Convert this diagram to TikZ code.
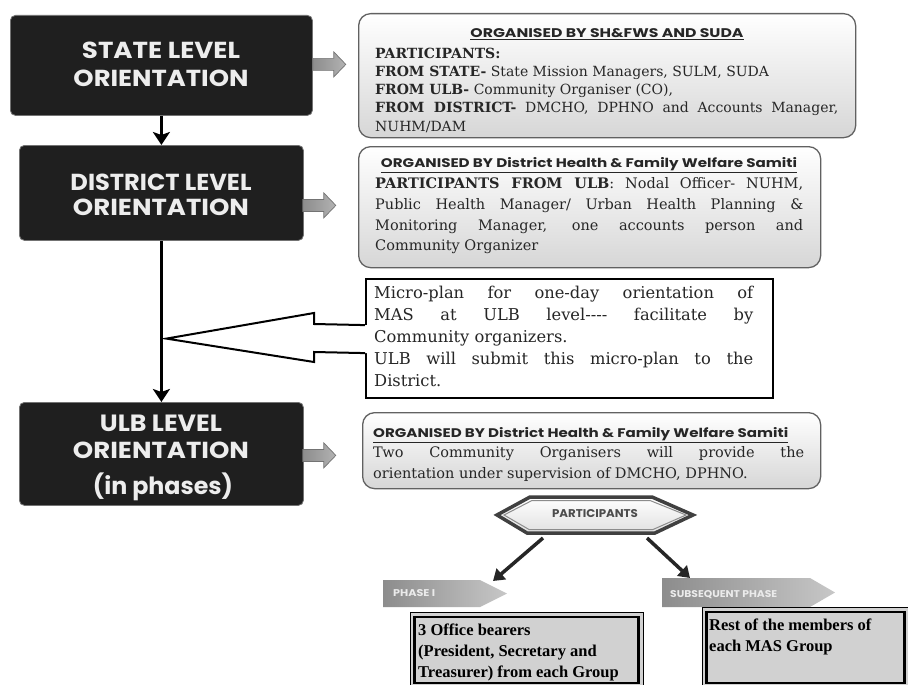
\documentclass[tikz,border=0pt]{standalone}
\usepackage{fontspec}
\setmainfont{DejaVu Serif}
\newfontfamily\popf{Poppins}
\newfontfamily\timesf{Liberation Serif}
\usetikzlibrary{arrows.meta,calc}
\tikzset{
  darkbox/.style={fill=black!88, draw=black!55, line width=0.8pt, rounded corners=5pt, inner sep=0pt, anchor=north west},
  litebox/.style={draw=black!62, line width=1.3pt, rounded corners=12pt, top color=white, bottom color=black!16, inner sep=0pt, anchor=north west},
  microbox/.style={draw=black, line width=2.2pt, fill=white, inner sep=0pt, anchor=north west},
  darktext/.style={text=white!93!black, inner sep=0pt, anchor=base},
  hdr/.style={inner sep=0pt, anchor=base, text=black!85},
  para/.style={inner sep=0pt, anchor=north west, align=left, text=black!85},
  flowarrow/.style={line width=3pt, -{Stealth[length=13pt,width=17pt,inset=3pt]}},
  grayarr/.style={draw=black!55, line width=0.7pt, left color=black!45, right color=black!30},
  callout/.style={draw=black, line width=2pt, line join=miter},
  phasearrow/.style={line width=3.5pt, black!85, -{Triangle[length=11pt,width=14pt]}},
  phasetag/.style={left color=black!45, right color=black!22, draw=none},
  phasebox/.style={draw=black, line width=0.8pt, fill=black!18},
  phaseinner/.style={draw=black, line width=2.6pt},
  hexout/.style={draw=black!75, line width=3.5pt, line join=miter, top color=white, bottom color=black!12},
  hexin/.style={draw=black!45, line width=1pt},
}
\newcommand{\grarrow}[1]{\draw[grayarr] #1 ++(0,-6) -- ++(21,0) -- ++(0,-6.5) -- ++(12,12.5) -- ++(-12,12.5) -- ++(0,-6.5) -- ++(-21,0) -- cycle;}
\begin{document}
\begin{tikzpicture}[x=1pt,y=-1pt]
\useasboundingbox (0,0) rectangle (908,685);
\clip (0,0) rectangle (908,685);
\fill[white] (0,0) rectangle (908,685);

% dark level boxes
\node[darkbox, minimum width=302pt, minimum height=100pt] (state) at (10,15) {};
\node[darkbox, minimum width=284pt, minimum height=95pt] (district) at (19,145) {};
\node[darkbox, minimum width=284pt, minimum height=103pt] (ulb) at (19,402) {};

% light boxes
\node[litebox, minimum width=497pt, minimum height=124pt] (box1) at (358,13) {};
\node[litebox, minimum width=462pt, minimum height=121pt] (box2) at (358,146) {};
\node[litebox, minimum width=458pt, minimum height=76pt] (box3) at (362,412) {};
\node[microbox, minimum width=407pt, minimum height=119pt] (micro) at (365,278) {};

% flow arrows
\draw[flowarrow] (state.south) -- (district.north);
\draw[flowarrow] (district.south) -- (ulb.north);

% gray arrows
\grarrow{($(state.east)+(0,-1)$)}
\grarrow{($(district.east)+(-1,12.5)$)}
\grarrow{($(ulb.east)+(-1,1.5)$)}

% callout arrow
\coordinate (ctip) at ($(district.south |- micro.west)+(5,0)$);
\coordinate (cA) at ($(micro.west)+(0,-13.5)$);
\coordinate (cB) at ($(micro.west)+(0,14.5)$);
\fill[white] ($(cA)+(2,0)$) -- (314,324) -- (314,313) -- (ctip) -- (314,362) -- (314,352) -- ($(cB)+(2,0)$) -- cycle;
\draw[callout] (cA) -- (314,324) -- (314,313) -- (ctip) -- (314,362) -- (314,352) -- (cB);

% dark box texts
\node[darktext] (stA) at (161,58.5) {\resizebox{158pt}{16.5pt}{\popf\bfseries STATE LEVEL}};
\node[darktext] (stB) at (161,86) {\resizebox{175pt}{16.5pt}{\popf\bfseries ORIENTATION}};
\node[darktext] (diA) at (161,190) {\resizebox{181pt}{16.5pt}{\popf\bfseries DISTRICT LEVEL}};
\node[darktext] (diB) at (161,215) {\resizebox{176pt}{16.5pt}{\popf\bfseries ORIENTATION}};
\node[darktext] (ulA) at (161,431) {\resizebox{122pt}{16.5pt}{\popf\bfseries ULB LEVEL}};
\node[darktext] (ulB) at (161,458) {\resizebox{176pt}{16.5pt}{\popf\bfseries ORIENTATION}};
\node[darktext] (ulC) at (163,494) {\resizebox{140pt}{!}{\popf\bfseries (in phases)}};

% box 1
\node[hdr] (b1h) at (607,37.5) {\resizebox{273pt}{9pt}{\popf\bfseries\underline{ORGANISED BY SH\&FWS AND SUDA}}};
\node[para, font=\fontsize{14}{18.25}\selectfont] (b1t) at (375,47.5) {\textbf{PARTICIPANTS:}\\
\textbf{FROM STATE-} State Mission Managers, SULM, SUDA\\
\textbf{FROM ULB-} Community Organiser (CO),\\
\makebox[463pt][s]{\textbf{FROM DISTRICT-} DMCHO, DPHNO and Accounts Manager,}\\
NUHM/DAM};

% box 2
\node[hdr] (b2h) at (589,167.5) {\resizebox{416pt}{10pt}{\popf\bfseries\underline{ORGANISED BY District Health \& Family Welfare Samiti}}};
\node[para, font=\fontsize{14.5}{20.7}\selectfont] (b2t) at (375,177.5) {\makebox[428pt][s]{\textbf{PARTICIPANTS FROM ULB}: Nodal Officer- NUHM,}\\
\makebox[428pt][s]{Public Health Manager/ Urban Health Planning \&}\\
\makebox[428pt][s]{Monitoring Manager, one accounts person and}\\
Community Organizer};

% micro-plan
\node[para, font=\fontsize{16.3}{22}\selectfont] (mt) at (374,285.5) {\makebox[379pt][s]{Micro-plan for one-day orientation of}\\
\makebox[379pt][s]{MAS at ULB level-{}-{}-{}- facilitate by}\\
Community organizers.\\
\makebox[379pt][s]{ULB will submit this micro-plan to the}\\
District.};

% box 3
\node[hdr, anchor=base west] (b3h) at (373,437.5) {\resizebox{415pt}{10pt}{\popf\bfseries\underline{ORGANISED BY District Health \& Family Welfare Samiti}}};
\node[para, font=\fontsize{14.5}{21}\selectfont] (b3t) at (373,446.5) {\makebox[431pt][s]{Two Community Organisers will provide the}\\
orientation under supervision of DMCHO, DPHNO.};

% hexagon
\path[hexout] (497,515) -- (530,497) -- (652,497) -- (693,515) -- (655,533) -- (527,533) -- cycle;
\path[hexin] (504,515) -- (532,500.5) -- (650,500.5) -- (686,515) -- (653,529.5) -- (529,529.5) -- cycle;
\node[hdr, text=black!70] (hex) at (595,517) {\resizebox{86pt}{8pt}{\popf\bfseries PARTICIPANTS}};

% phase tags
\path[phasetag] (383,580) -- (480,580) -- (507,593.5) -- (480,607) -- (383,607) -- cycle;
\path[phasetag] (662,578) -- (810,578) -- (835,592.5) -- (810,607) -- (662,607) -- cycle;
\node[hdr, anchor=base west, text=white!92!black] (tag1) at (393,596.5) {\resizebox{42pt}{7pt}{\popf\bfseries PHASE I}};
\node[hdr, anchor=base west, text=white!92!black] (tag2) at (670,597) {\resizebox{107pt}{7pt}{\popf\bfseries SUBSEQUENT PHASE}};

\coordinate (h1) at (543,538);
\coordinate (h2) at (647,538);
\coordinate (p1) at (493,581);
\coordinate (p2) at (690,578);
\draw[phasearrow] (h1) -- (p1);
\draw[phasearrow] (h2) -- (p2);

% phase boxes
\draw[phasebox] (410,612) rectangle (643,692);
\draw[phaseinner] (414.5,617) rectangle (638.5,683);
\draw[phasebox] (702,607) rectangle (915,692);
\draw[phaseinner] (706.5,612) rectangle (904.5,683);
\node[para, text=black, font=\timesf\bfseries\fontsize{16.5}{21}\selectfont] (ph1t) at (418,624) {3 Office bearers\\(President, Secretary and\\Treasurer) from each Group};
\node[para, text=black, font=\timesf\bfseries\fontsize{16.5}{21}\selectfont] (ph2t) at (709,619) {Rest of the members of\\each MAS Group};
\end{tikzpicture}
\end{document}
